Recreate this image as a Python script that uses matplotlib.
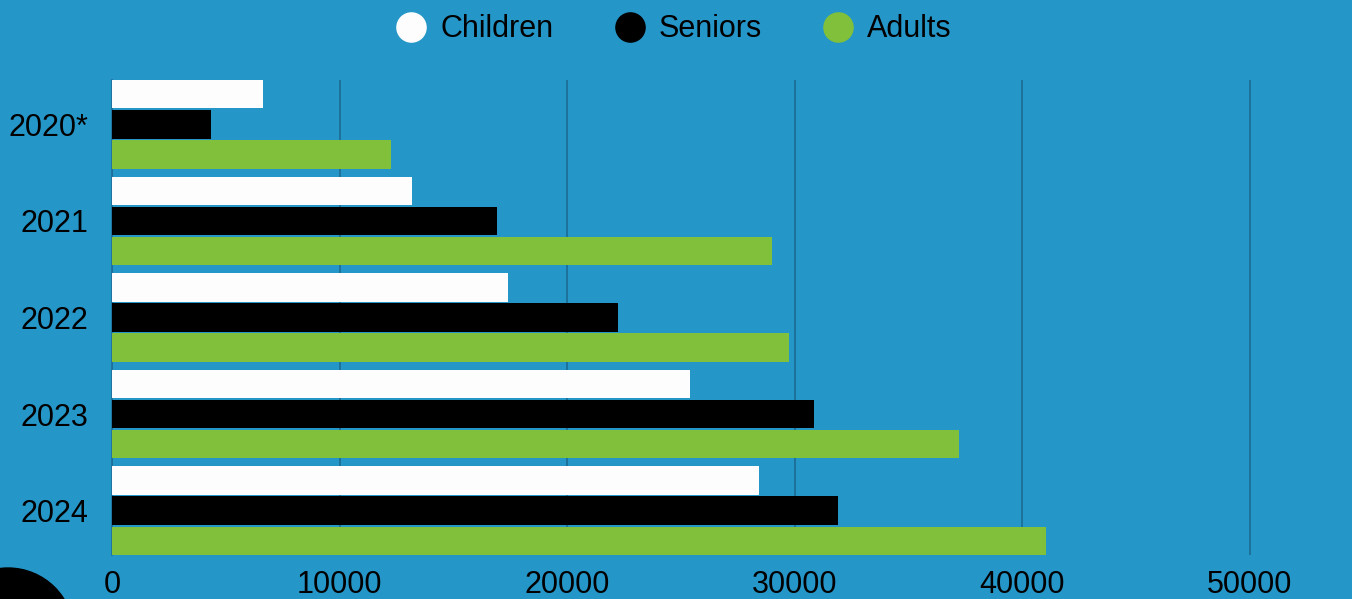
import numpy as np
import matplotlib
matplotlib.use("Agg")
import matplotlib.pyplot as plt
from matplotlib.lines import Line2D
from matplotlib.patches import Circle
from matplotlib.transforms import IdentityTransform

plt.rcParams['font.family'] = ['Liberation Sans', 'DejaVu Sans']

years = ["2020*", "2021", "2022", "2023", "2024"]
children = [6650, 13180, 17400, 25400, 28430]
seniors = [4350, 16900, 22230, 30850, 31900]
adults = [12260, 29000, 29750, 37200, 41050]

series_names = ["Children", "Seniors", "Adults"]
series_colors = ["#fdfdfd", "#000000", "#80c03a"]

bg = "#2596c8"
grid_col = "#1d6f98"

fig = plt.figure(figsize=(13.52, 5.99), dpi=100, facecolor=bg)
W, H = 1352, 599
ax = fig.add_axes([112 / W, 1 - 555 / H, (W - 112) / W, (555 - 80) / H])
ax.set_facecolor(bg)

y = np.arange(len(years))
step = 0.311
h = 0.295
for i, (vals, col) in enumerate(zip([children, seniors, adults], series_colors)):
    ax.barh(y + (i - 1) * step, vals, height=h, color=col, zorder=3)

ax.set_ylim(len(years) - 1 + step + h / 2, -step - h / 2)
ax.set_xlim(0, (W - 112) / 22.76 * 1000)
ax.set_xticks([0, 10000, 20000, 30000, 40000, 50000])
ax.set_yticks(y)
ax.set_yticklabels(years)
ax.tick_params(axis='both', length=0, labelsize=22, colors="black")
ax.tick_params(axis='x', pad=11)
ax.tick_params(axis='y', pad=17)
ax.xaxis.grid(True, color=grid_col, linewidth=1.3, zorder=0)
for s in ["top", "right", "bottom"]:
    ax.spines[s].set_visible(False)
ax.spines["left"].set_color(grid_col)
ax.spines["left"].set_linewidth(1.2)
ax.spines["left"].set_zorder(1)

handles = [Line2D([], [], linestyle="none", marker="o", markersize=21,
                  markerfacecolor=c, markeredgecolor=c) for c in series_colors]
fig.legend(handles, series_names, loc="upper center", bbox_to_anchor=(0.4985, 1.022),
           ncol=3, frameon=False, fontsize=22, handlelength=1.0,
           handletextpad=0.45, columnspacing=2.0)

# decorative black circle in the bottom-left corner (pixel units)
circ = Circle((8, H - 634), 66, transform=IdentityTransform(), color="black", zorder=5)
fig.patches.append(circ)

fig.savefig("out.png", dpi=100, facecolor=bg)
